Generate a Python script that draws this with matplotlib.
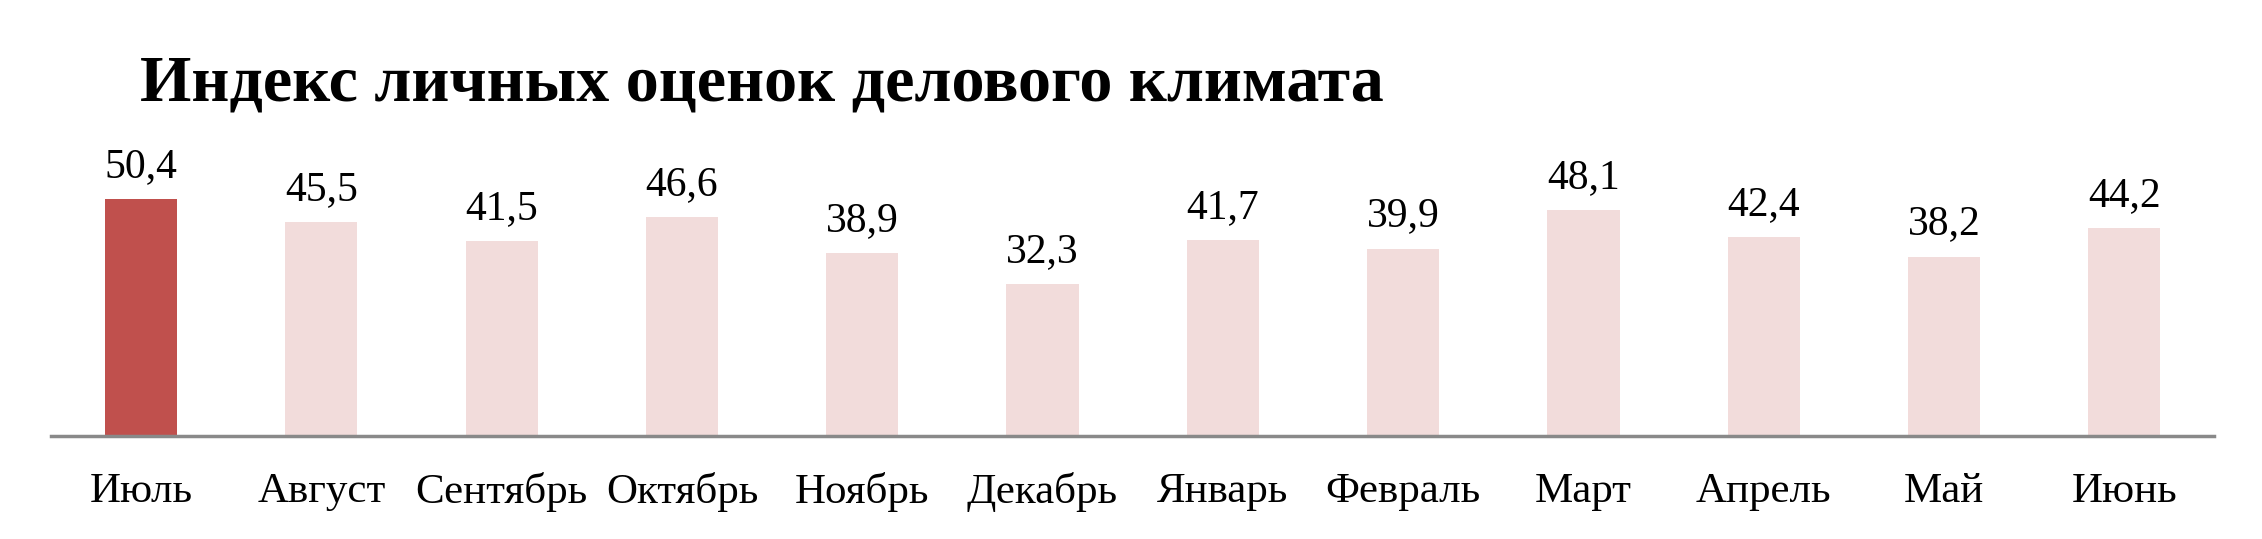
import matplotlib
matplotlib.use("Agg")
from matplotlib import pyplot as plt

months = ["Июль", "Август", "Сентябрь", "Октябрь", "Ноябрь", "Декабрь",
          "Январь", "Февраль", "Март", "Апрель", "Май", "Июнь"]
values = [50.4, 45.5, 41.5, 46.6, 38.9, 32.3, 41.7, 39.9, 48.1, 42.4, 38.2, 44.2]
labels = ["50,4", "45,5", "41,5", "46,6", "38,9", "32,3",
          "41,7", "39,9", "48,1", "42,4", "38,2", "44,2"]
title = "Индекс личных оценок делового климата"

highlight = "#C0504D"
light = "#F2DCDB"

plt.rcParams['font.family'] = ['Liberation Serif', 'DejaVu Serif']

fig = plt.figure(figsize=(22.62, 5.39), dpi=100, facecolor="white")
ax = fig.add_axes([0.0225, 0.191, 0.9565, 0.523])

colors = [highlight] + [light] * (len(values) - 1)
x = range(len(values))
bars = ax.bar(x, values, width=0.4, color=colors)

for xi, v, lab in zip(x, values, labels):
    ax.annotate(lab, (xi, v), xytext=(0, 16), textcoords="offset points",
                ha="center", va="baseline", fontsize=30, color="black")

ax.set_xlim(-0.5, len(values) - 0.5)
ax.set_ylim(0, 60)
ax.set_xticks(list(x))
ax.set_xticklabels(months, fontsize=31)
ax.tick_params(axis="x", length=0, pad=26)
ax.set_yticks([])

for side in ["top", "right", "left"]:
    ax.spines[side].set_visible(False)
ax.spines["bottom"].set_color("#898989")
ax.spines["bottom"].set_linewidth(2.5)

fig.text(0.062, 0.814, title, fontsize=47.5, fontweight="bold",
         ha="left", va="baseline", color="black")

fig.savefig("out.png", dpi=100, facecolor="white")
